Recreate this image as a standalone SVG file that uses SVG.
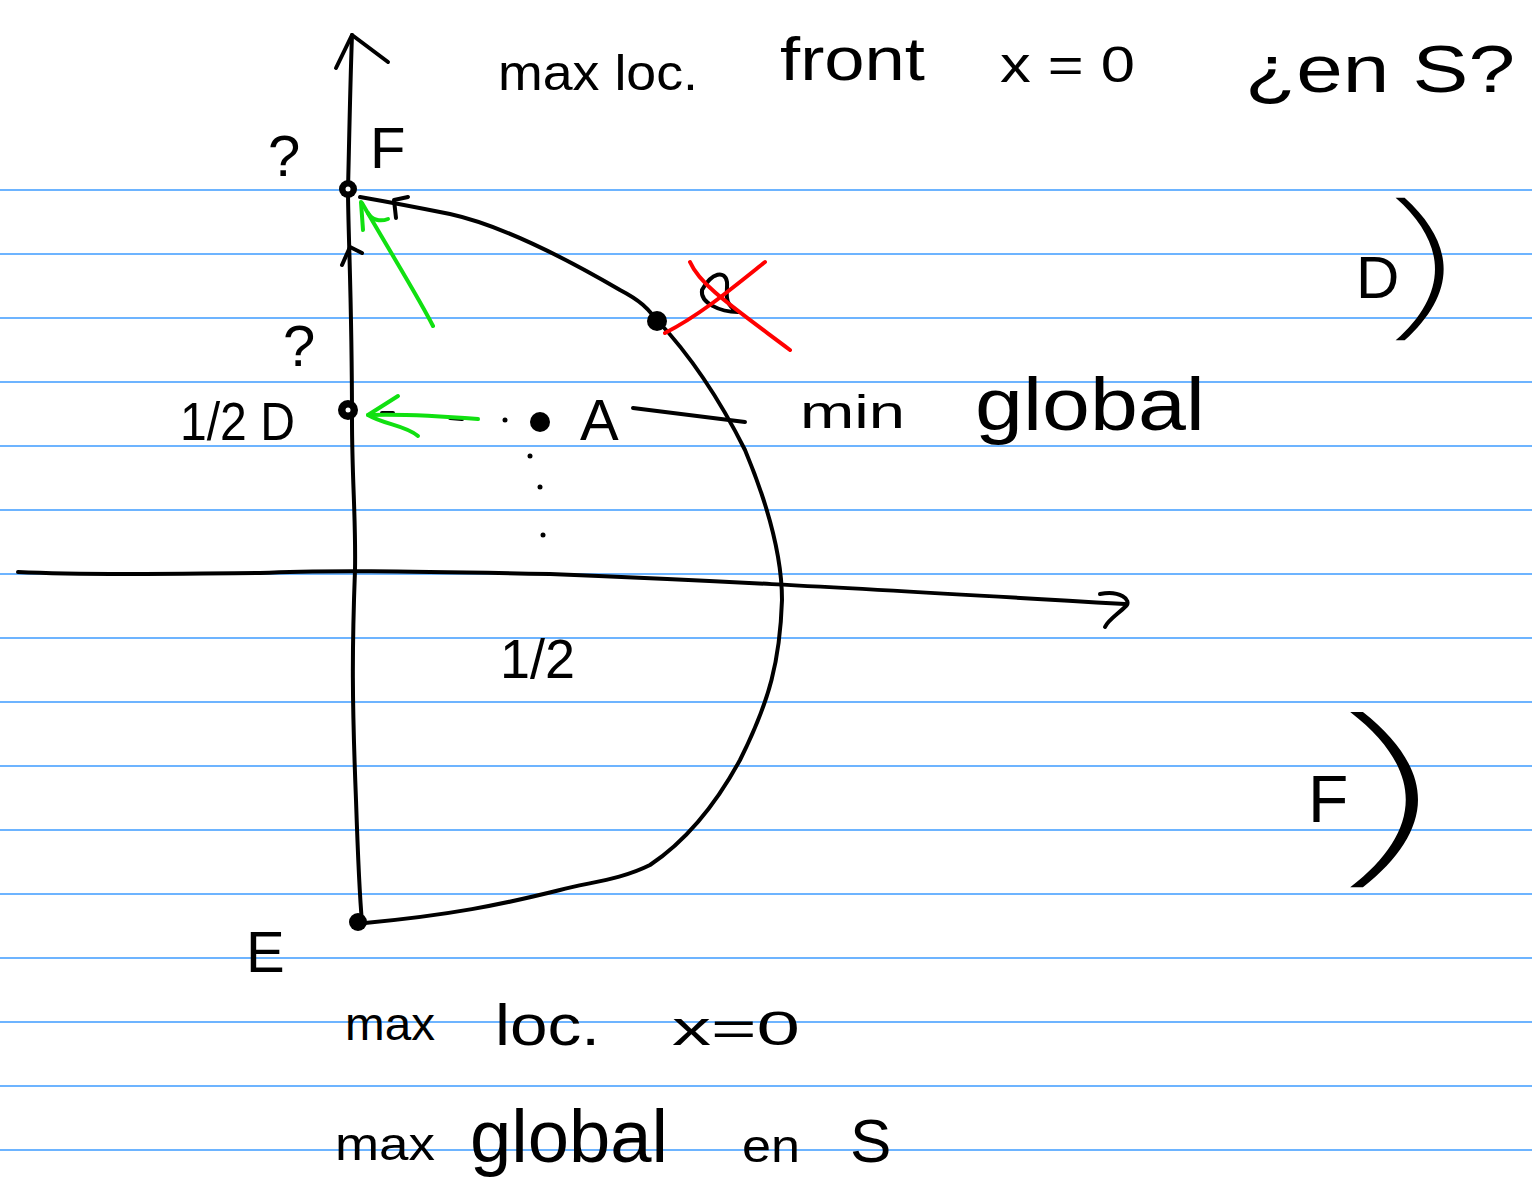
<svg xmlns="http://www.w3.org/2000/svg" width="1532" height="1188" viewBox="0 0 1532 1188">
<defs>
<style>
.rule{stroke:#3d9bff;stroke-width:1.5}
.ink{fill:none;stroke:#000;stroke-width:4;stroke-linecap:round;stroke-linejoin:round}
.green{fill:none;stroke:#11e011;stroke-width:4;stroke-linecap:round;stroke-linejoin:round}
.red{fill:none;stroke:#f00;stroke-width:4;stroke-linecap:round;stroke-linejoin:round}
.dot{fill:#000}
.t{font-family:"Liberation Sans","DejaVu Sans",sans-serif;fill:#000}
.paren{font-family:Inter,"Liberation Sans",sans-serif;font-weight:100;fill:#000}
</style>
</defs>
<rect width="1532" height="1188" fill="#fff"/>
<g id="rules">
<line class="rule" x1="0" y1="190" x2="1532" y2="190"/>
<line class="rule" x1="0" y1="254" x2="1532" y2="254"/>
<line class="rule" x1="0" y1="318" x2="1532" y2="318"/>
<line class="rule" x1="0" y1="382" x2="1532" y2="382"/>
<line class="rule" x1="0" y1="446" x2="1532" y2="446"/>
<line class="rule" x1="0" y1="510" x2="1532" y2="510"/>
<line class="rule" x1="0" y1="574" x2="1532" y2="574"/>
<line class="rule" x1="0" y1="638" x2="1532" y2="638"/>
<line class="rule" x1="0" y1="702" x2="1532" y2="702"/>
<line class="rule" x1="0" y1="766" x2="1532" y2="766"/>
<line class="rule" x1="0" y1="830" x2="1532" y2="830"/>
<line class="rule" x1="0" y1="894" x2="1532" y2="894"/>
<line class="rule" x1="0" y1="958" x2="1532" y2="958"/>
<line class="rule" x1="0" y1="1022" x2="1532" y2="1022"/>
<line class="rule" x1="0" y1="1086" x2="1532" y2="1086"/>
<line class="rule" x1="0" y1="1150" x2="1532" y2="1150"/>
</g>
<g id="axes">
<path class="ink" d="M352 35 C350 90 349 150 348 190 C348 230 352 300 352 420 C352 480 356 520 355 570 C352 650 352 700 356 800 C358 860 360 900 362 922"/>
<path class="ink" d="M336 68 L352 35 L388 62"/>
<path class="ink" d="M18 572 C100 576 200 573 260 573 C320 570 400 571 550 574 C700 580 800 585 1125 604"/>
<path class="ink" d="M1100 594 C1120 590 1132 600 1126 606 C1118 614 1108 620 1105 627"/>
</g>
<g id="region">
<path class="ink" d="M360 197 C400 204 420 208 450 214 C500 225 560 255 620 290 C645 303 650 312 657 320 C690 355 720 400 745 450 C770 510 782 560 782 600 C780 660 770 700 740 760 C710 815 680 845 650 865 C620 880 590 882 560 890 C500 905 450 915 365 923"/>
<path class="ink" d="M342 265 L350 247 L362 253"/>
<path class="ink" d="M396 218 L394 200 L408 197"/>
<path class="ink" d="M702 290 C712 272 725 270 727 282 C728 292 722 303 738 312 C720 312 700 303 702 290 Z"/>
</g>
<g id="points">
<circle class="dot" cx="348" cy="189" r="9"/>
<circle class="dot" cx="657" cy="321" r="10"/>
<circle class="dot" cx="348" cy="410" r="10"/>
<circle class="dot" cx="540" cy="422" r="10"/>
<circle class="dot" cx="358" cy="922" r="9"/>
<circle cx="348" cy="189" r="2.5" fill="#fff"/>
<circle cx="348" cy="410" r="2.5" fill="#fff"/>
</g>
<g id="dots">
<circle class="dot" cx="505" cy="420" r="2.5"/>
<circle class="dot" cx="530" cy="456" r="2.5"/>
<circle class="dot" cx="540" cy="487" r="2.5"/>
<circle class="dot" cx="543" cy="535" r="2.5"/>
<path class="ink" d="M382 413 L393 413 M450 418 L462 419"/>
<path class="ink" d="M633 408 L745 422"/>
</g>
<g id="connectors">
<path class="green" d="M433 326 C420 300 395 260 362 203"/>
<path class="green" d="M361 202 L363 230 M368 213 C372 220 380 222 388 219"/>
<path class="green" d="M478 419 C440 416 400 414 368 415"/>
<path class="green" d="M398 396 L368 415 C385 425 405 425 418 436"/>
</g>
<g id="cross">
<path class="red" d="M690 262 C700 285 730 305 790 350"/>
<path class="red" d="M665 333 C700 315 730 290 765 262"/>
</g>
<g id="labels" class="t">
<text class="t" x="498" y="90" font-size="50" textLength="200" lengthAdjust="spacingAndGlyphs">max loc.</text>
<text class="t" x="780" y="80" font-size="62" textLength="145" lengthAdjust="spacingAndGlyphs">front</text>
<text class="t" x="1000" y="82" font-size="50" textLength="135" lengthAdjust="spacingAndGlyphs">x = 0</text>
<text class="t" x="1245" y="92" font-size="66" textLength="270" lengthAdjust="spacingAndGlyphs">¿en S?</text>
<text class="t" x="268" y="176" font-size="58">?</text>
<text class="t" x="370" y="168" font-size="58">F</text>
<text class="t" x="283" y="366" font-size="58">?</text>
<text class="t" x="180" y="440" font-size="54" textLength="115" lengthAdjust="spacingAndGlyphs">1/2 D</text>
<text class="t" x="580" y="440" font-size="58">A</text>
<text class="t" x="800" y="428" font-size="46" textLength="105" lengthAdjust="spacingAndGlyphs">min</text>
<text class="t" x="975" y="430" font-size="74" textLength="230" lengthAdjust="spacingAndGlyphs">global</text>
<g id="labelD">
<text class="t" x="1356" y="298" font-size="60">D</text>
<text class="paren" font-size="112" transform="translate(1370,319) scale(3.3,1.4)">)</text>
</g>
<text class="t" x="500" y="678" font-size="56" textLength="75" lengthAdjust="spacingAndGlyphs">1/2</text>
<g id="labelF">
<text class="t" x="1308" y="822" font-size="66">F</text>
<text class="paren" font-size="145" transform="translate(1314,861) scale(3.6,1.33)">)</text>
</g>
<text class="t" x="246" y="972" font-size="58">E</text>
<text class="t" x="345" y="1040" font-size="46" textLength="90" lengthAdjust="spacingAndGlyphs">max</text>
<text class="t" x="495" y="1045" font-size="58" textLength="105" lengthAdjust="spacingAndGlyphs">loc.</text>
<text class="t" x="672" y="1045" font-size="48" textLength="128" lengthAdjust="spacingAndGlyphs">x=0</text>
<text class="t" x="335" y="1160" font-size="46" textLength="100" lengthAdjust="spacingAndGlyphs">max</text>
<text class="t" x="470" y="1162" font-size="74" textLength="198" lengthAdjust="spacingAndGlyphs">global</text>
<text class="t" x="742" y="1162" font-size="46" textLength="58" lengthAdjust="spacingAndGlyphs">en</text>
<text class="t" x="850" y="1162" font-size="62">S</text>
</g>
</svg>
